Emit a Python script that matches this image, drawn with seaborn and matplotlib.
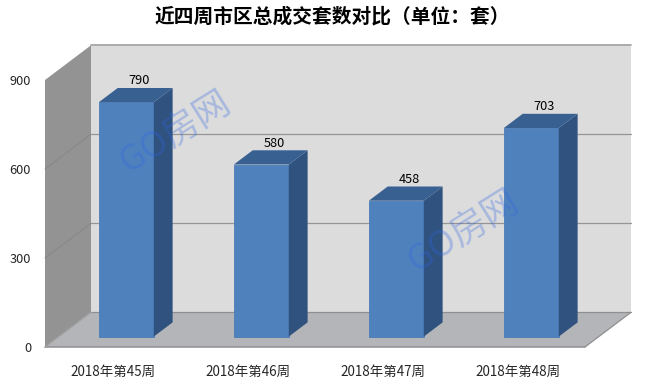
import matplotlib
matplotlib.use("Agg")
import matplotlib.pyplot as plt
from matplotlib.patches import Polygon
import pandas as pd
import seaborn as sns

weeks = ["2018年第45周", "2018年第46周", "2018年第47周", "2018年第48周"]
units = [790, 580, 458, 703]
y_ticks = [0, 300, 600, 900]
title = "近四周市区总成交套数对比（单位：套）"
watermark = "GO房网"

sns.set_style("white")
plt.rcParams["font.family"] = ["Noto Sans CJK SC", "DejaVu Sans"]

W, H = 654, 385
fig = plt.figure(figsize=(W / 100, H / 100), dpi=100, facecolor="white")
# front plane of the 3D box
ax = fig.add_axes([45 / W, 1 - 347 / H, 540 / W, 267 / H])
df = pd.DataFrame({"week": weeks, "units": units})
sns.barplot(data=df, x="week", y="units", color="#4F81BD", saturation=1, width=0.407, ax=ax, zorder=5)
ax.set_xlim(-0.5, 3.5)
ax.set_ylim(0, 900)
ax.set_xlabel("")
ax.set_ylabel("")
ax.set_yticks(y_ticks)
ax.tick_params(axis="y", length=0, pad=10, labelsize=9.2)
ax.tick_params(axis="x", length=0, pad=13, labelsize=9.7)
for s in ax.spines.values():
    s.set_visible(False)
ax.grid(False)
ax.patch.set_visible(False)

# oblique depth vector, in data units
DX = 46 / 135
DY = 34.7 / (267 / 900)
BAR_NEAR, BAR_FAR = 0.30, 0.71


def proj(x, y, d):
    return (x + d * DX, y + d * DY)


def face(pts, color, z, edge="none"):
    ax.add_patch(Polygon(pts, closed=True, facecolor=color, edgecolor=edge,
                         lw=0.8, zorder=z, clip_on=False))


x0, x1 = ax.get_xlim()
top, base = y_ticks[-1], y_ticks[0]
# back wall, left wall, floor
face([proj(x0, base, 1), proj(x1, base, 1), proj(x1, top, 1), proj(x0, top, 1)], "#DCDCDC", 1)
face([proj(x0, base, 0), proj(x0, base, 1), proj(x0, top, 1), proj(x0, top, 0)], "#939393", 1)
face([proj(x0, base, 0), proj(x1, base, 0), proj(x1, base, 1), proj(x0, base, 1)], "#B3B5B9", 2)

# grid
for v in y_ticks[1:-1]:
    a, b, c = proj(x0, v, 0), proj(x0, v, 1), proj(x1, v, 1)
    ax.plot([a[0], b[0]], [a[1], b[1]], color="#878787", lw=0.7, zorder=2, clip_on=False)
    ax.plot([b[0], c[0]], [b[1], c[1]], color="#959595", lw=0.9, zorder=2, clip_on=False)
# box edges
a, b = proj(x0, top, 1), proj(x1, top, 1)
ax.plot([a[0], b[0]], [a[1], b[1]], color="#A6A6A6", lw=1.3, zorder=3, clip_on=False)
a, b = proj(x0, base, 1), proj(x1, base, 1)
ax.plot([a[0], b[0]], [a[1], b[1]], color="#8F8F8F", lw=0.9, zorder=3, clip_on=False)
a, b = proj(x0, base, 0), proj(x1, base, 0)
ax.plot([a[0], b[0]], [a[1], b[1]], color="#8F8F8F", lw=1.1, zorder=3, clip_on=False)
a, b = proj(x1, base, 0), proj(x1, base, 1)
ax.plot([a[0], b[0]], [a[1], b[1]], color="#8F8F8F", lw=0.9, zorder=3, clip_on=False)
a, b = proj(x0, base, 0), proj(x0, base, 1)
ax.plot([a[0], b[0]], [a[1], b[1]], color="#A0A0A0", lw=0.9, zorder=3, clip_on=False)

# extrude bars
for i, (bar, v) in enumerate(zip(ax.patches[:len(units)], units)):
    left, w = bar.get_x(), bar.get_width()
    lx, by = proj(left, 0, BAR_NEAR)
    bar.set_x(lx)
    bar.set_y(by)
    bar.set_edgecolor("#4A7CB8")
    bar.set_linewidth(0.6)
    bar.set_clip_on(False)
    right = left + w
    face([proj(right, 0, BAR_NEAR), proj(right, 0, BAR_FAR),
          proj(right, v, BAR_FAR), proj(right, v, BAR_NEAR)], "#30527F", 6)
    face([proj(left, v, BAR_NEAR), proj(right, v, BAR_NEAR),
          proj(right, v, BAR_FAR), proj(left, v, BAR_FAR)], "#386192", 6)
    ax.annotate(str(v), proj(i, v, 0.58), xytext=(0, 8.5), textcoords="offset points",
                ha="center", va="center", fontsize=9.2, color="black", zorder=8,
                annotation_clip=False)

fig.text(332 / W, 1 - 17 / H, title, ha="center", va="center", fontsize=14.2,
         fontweight="bold", color="black")

for cx, cy in [(175, 132), (463, 231)]:
    fig.text(cx / W, 1 - cy / H, watermark, ha="center", va="center", fontsize=26,
             rotation=32, color="#2F66E0", alpha=0.3, fontweight="medium", zorder=20)

fig.savefig("out.png", dpi=100)
